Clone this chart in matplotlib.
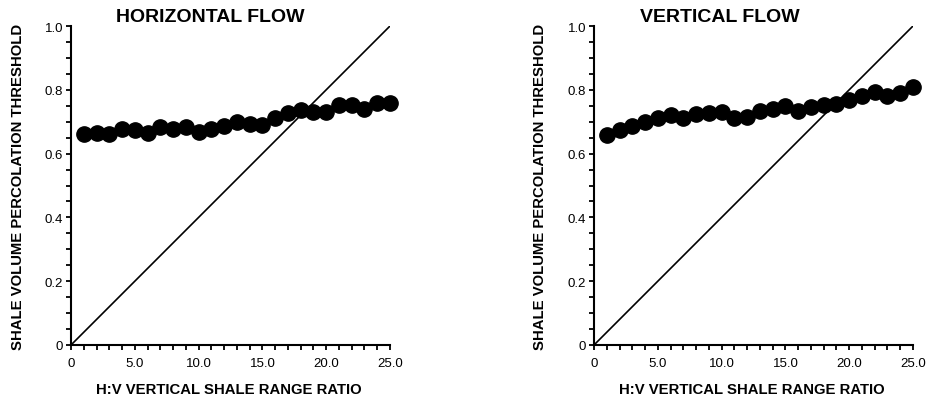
import matplotlib
matplotlib.use("Agg")
import matplotlib.pyplot as plt
from matplotlib.ticker import MultipleLocator

plt.rcParams['font.family'] = ['Liberation Sans', 'DejaVu Sans']

ratio = list(range(1, 26))
horizontal = [0.661, 0.666, 0.661, 0.676, 0.674, 0.664, 0.682, 0.678, 0.682, 0.668,
              0.676, 0.687, 0.699, 0.692, 0.689, 0.713, 0.727, 0.737, 0.729, 0.731,
              0.752, 0.752, 0.741, 0.758, 0.760]
vertical = [0.659, 0.673, 0.685, 0.699, 0.711, 0.720, 0.711, 0.725, 0.727, 0.730,
            0.712, 0.714, 0.735, 0.741, 0.749, 0.735, 0.746, 0.753, 0.756, 0.767,
            0.780, 0.793, 0.782, 0.791, 0.809]
line_x = [0, 25]
line_y = [0, 1.0]
titles = ["HORIZONTAL FLOW", "VERTICAL FLOW"]
xticks = [0, 5, 10, 15, 20, 25]
xticklabels = ["0", "5.0", "10.0", "15.0", "20.0", "25.0"]
yticks = [0, 0.2, 0.4, 0.6, 0.8, 1.0]
yticklabels = ["0", "0.2", "0.4", "0.6", "0.8", "1.0"]
xlabel = "H:V VERTICAL SHALE RANGE RATIO"
ylabel = "SHALE VOLUME PERCOLATION THRESHOLD"

W, H = 927, 402
fig = plt.figure(figsize=(W / 100, H / 100), dpi=100)

def px(x0, y0, x1, y1):
    return [x0 / W, 1 - y1 / H, (x1 - x0) / W, (y1 - y0) / H]

axes_px = [(71, 27, 390, 346), (594, 27, 913, 346)]
title_x = [210, 720]
ylabel_x = [18, 540]
xlabel_x = [229, 752]

for i, (data, title) in enumerate(zip([horizontal, vertical], titles)):
    ax = fig.add_axes(px(*axes_px[i]))
    ax.plot(line_x, line_y, color='black', lw=1.2)
    ax.plot(ratio, data, 'o', color='black', ms=11, clip_on=False, zorder=3)
    ax.set_xlim(0, 25)
    ax.set_ylim(0, 1.0)
    ax.spines['top'].set_visible(False)
    ax.spines['right'].set_visible(False)
    ax.spines['left'].set_linewidth(1.5)
    ax.spines['bottom'].set_linewidth(1.5)
    ax.set_xticks(xticks)
    ax.set_xticklabels(xticklabels)
    ax.set_yticks(yticks)
    ax.set_yticklabels(yticklabels)
    ax.xaxis.set_minor_locator(MultipleLocator(1))
    ax.yaxis.set_minor_locator(MultipleLocator(0.05))
    ax.tick_params(which='both', direction='out', width=1.3, labelsize=9.5)
    ax.tick_params(which='major', length=3.5)
    ax.tick_params(which='minor', length=3.5)
    ax.tick_params(axis='x', which='major', pad=5)
    ax.tick_params(axis='y', which='major', pad=2)
    fig.text(title_x[i] / W, 1 - 17 / H, title, ha='center', va='center',
             fontsize=14, fontweight='bold')
    fig.text(ylabel_x[i] / W, 1 - 187 / H, ylabel, ha='center', va='center',
             rotation=90, fontsize=10.7, fontweight='bold')
    fig.text(xlabel_x[i] / W, 1 - 390 / H, xlabel, ha='center', va='center',
             fontsize=10.7, fontweight='bold')

fig.savefig("out.png", dpi=100)
